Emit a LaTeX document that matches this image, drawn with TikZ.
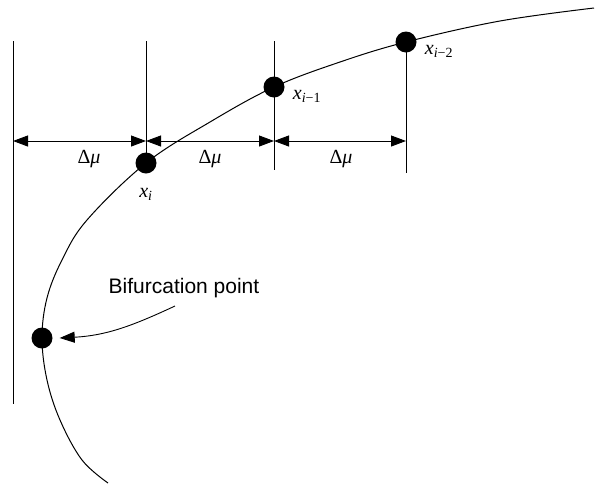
\documentclass[tikz,border=0pt]{standalone}
\usepackage{fontspec}
\setmainfont{Liberation Serif}
\newfontfamily\labelfont{Liberation Sans}
\usepackage{tikz}
\usetikzlibrary{arrows.meta, positioning}

\begin{document}
\begin{tikzpicture}[x=1pt,y=-1pt]
\tikzstyle{point} = [circle, fill=black, inner sep=0pt, minimum size=21pt]
\tikzstyle{guide} = [line width=0.9pt]
\tikzstyle{arrow} = [line width=0.9pt, {Triangle[length=15pt,width=11pt]}-{Triangle[length=15pt,width=11pt]}]
\tikzstyle{lbl} = [font=\fontsize{20}{22}\selectfont, inner sep=0pt]

\useasboundingbox (0,0) rectangle (595,483);

% points on the branch
\node (xi) [point] at (146,163) {};
\node (xa) [point] at (274,87) {};
\node (xb) [point] at (406,42) {};
\node (bif) [point] at (42,338) {};

% solution branch
\draw [line width=1pt] plot [smooth, tension=0.6] coordinates {(108,483) (82,460) (60,420) (47,380) (bif.center) (47,298) (62,260) (87,220) (xi.center) (210,122) (xa.center) (340,62) (xb.center) (500,21) (594,8)};

% parameter lines
\coordinate (l0) at (13,41);
\coordinate (l0b) at (13,404);
\coordinate (l1) at (146,41);
\coordinate (l2) at (274,41);
\coordinate (l2b) at (274,170);
\coordinate (l3b) at (406,173);
\draw [guide] (l0) -- (l0b);
\draw [guide] (l1) -- (xi.center);
\draw [guide] (l2) -- (l2b);
\draw [guide] (xb.center) -- (l3b);

% step arrows
\coordinate (a0) at (13,141);
\coordinate (a1) at (146,141);
\coordinate (a2) at (274,141);
\coordinate (a3) at (406,141);
\draw [arrow] (a0) -- (a1);
\draw [arrow] (a1) -- (a2);
\draw [arrow] (a2) -- (a3);

\node (d1) [lbl] at (89,159) {Δ\textit{μ}};
\node (d2) [lbl] at (210,159) {Δ\textit{μ}};
\node (d3) [lbl] at (341,159) {Δ\textit{μ}};

\node (lxi) [lbl] at (146,194) {\textit{x}\textsubscript{\textit{i}}};
\node (lxa) [lbl] at (307,96) {\textit{x}\textsubscript{\textit{i}−1}};
\node (lxb) [lbl] at (439,51) {\textit{x}\textsubscript{\textit{i}−2}};

% bifurcation label
\node (txt) [font=\labelfont\fontsize{21}{24}\selectfont, inner sep=0pt] at (184,288) {Bifurcation point};
\coordinate (start) at (175,306);
\coordinate (tip) at ([xshift=7pt]bif.east);
\draw [line width=0.9pt, -{Triangle[length=15pt,width=11pt]}] (start) to[out=205,in=3] (tip);
\end{tikzpicture}
\end{document}
